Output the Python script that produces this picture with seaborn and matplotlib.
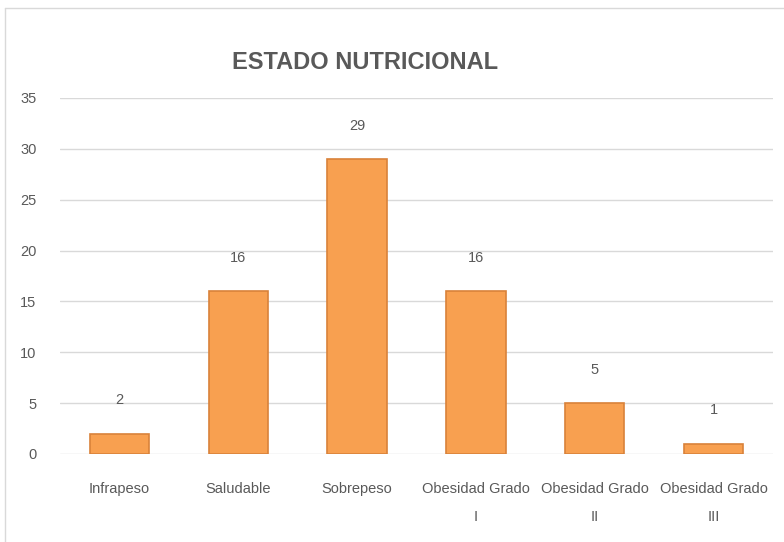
import matplotlib
matplotlib.use('Agg')
import matplotlib.pyplot as plt
import seaborn as sns
import pandas as pd

categorias = ['Infrapeso', 'Saludable', 'Sobrepeso',
              'Obesidad Grado\nI', 'Obesidad Grado\nII', 'Obesidad Grado\nIII']
valores = [2, 16, 29, 16, 5, 1]
yticks = [0, 5, 10, 15, 20, 25, 30, 35]

df = pd.DataFrame({'cat': categorias, 'n': valores})

sns.set_style('white')
plt.rcParams['font.family'] = ['Liberation Sans Narrow', 'Liberation Sans', 'DejaVu Sans']

fig = plt.figure(figsize=(7.84, 5.42), dpi=100)
ax = fig.add_axes([0.0765, 0.1624, 0.9095, 0.6568])

sns.barplot(data=df, x='cat', y='n', color='#F8A050', width=0.5,
            edgecolor='#D9823A', linewidth=1.2, saturation=1, ax=ax)

for i, v in enumerate(valores):
    ax.annotate(str(v), (i, v), xytext=(0, 19), textcoords='offset points',
                ha='center', va='bottom', fontsize=10.5, color='#595959')

ax.set_ylim(0, 35)
ax.set_yticks(yticks)
ax.grid(axis='y', color='#D9D9D9', linewidth=1)
ax.set_axisbelow(True)
sns.despine(ax=ax, left=True, bottom=True)
ax.set_xlabel('')
ax.set_ylabel('')
ax.tick_params(axis='y', labelsize=10.5, labelcolor='#595959', pad=17, length=0)
ax.tick_params(axis='x', labelsize=10.5, labelcolor='#595959', pad=20, length=0)
for lab in ax.get_xticklabels():
    lab.set_linespacing(2.3)

fig.text(0.466, 0.884, 'ESTADO NUTRICIONAL', ha='center', va='center',
         fontsize=17, fontweight='bold', color='#595959')

# borde del grafico
fig.add_artist(plt.Line2D([0.0064, 0.0064], [0, 0.985], color='#D9D9D9', lw=1))
fig.add_artist(plt.Line2D([0.0064, 1], [0.985, 0.985], color='#D9D9D9', lw=1))

fig.savefig('out.png', dpi=100)
